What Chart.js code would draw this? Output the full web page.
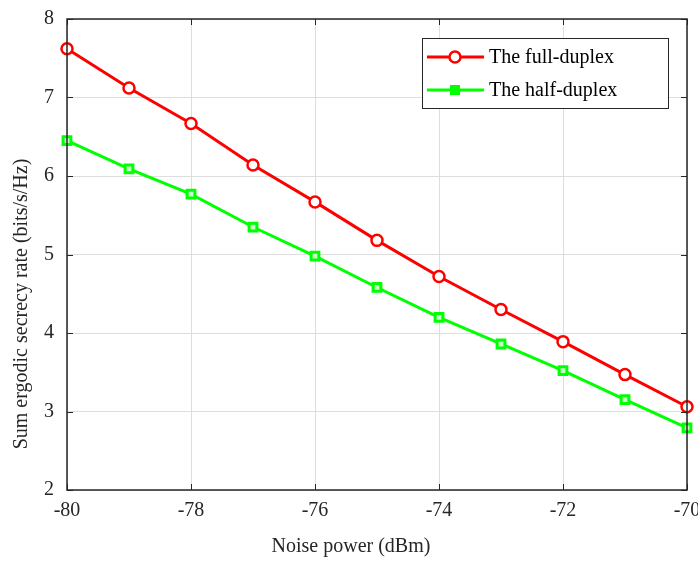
<!doctype html>
<html lang="en">
<head>
<meta charset="utf-8">
<title>Sum ergodic secrecy rate vs noise power</title>
<script src="https://cdn.jsdelivr.net/npm/chart.js@4.4.4/dist/chart.umd.min.js"></script>
<style>
  body { margin: 0; background: #fff; }
  .wrap { width: 698px; height: 562px; }
</style>
</head>
<body>
<div class="wrap"><canvas id="chart" width="698" height="562"></canvas></div>
<script>
// Values.
const noisePower = [-80, -79, -78, -77, -76, -75, -74, -73, -72, -71, -70];
const fullDuplex = [7.62, 7.12, 6.67, 6.14, 5.67, 5.18, 4.72, 4.30, 3.89, 3.47, 3.06];
const halfDuplex = [6.45, 6.09, 5.77, 5.35, 4.98, 4.58, 4.20, 3.86, 3.52, 3.15, 2.79];
const xTicks = [-80, -78, -76, -74, -72, -70];
const yTicks = [2, 3, 4, 5, 6, 7, 8];
const xTitle = "Noise power (dBm)";
const yTitle = "Sum ergodic secrecy rate (bits/s/Hz)";

const FONT = "'Liberation Serif', 'Times New Roman', serif";
const AXIS = "#262626";

const toXY = (ys) => ys.map((y, i) => ({ x: noisePower[i], y }));

// MATLAB-style box: frame plus short inward ticks on all four sides.
const boxPlugin = {
  id: "box",
  afterDatasetsDraw(chart) {
    const { ctx, chartArea: a, scales } = chart;
    const len = 6;
    ctx.save();
    ctx.strokeStyle = AXIS;
    ctx.lineWidth = 1;
    ctx.beginPath();
    for (const v of xTicks) {
      const px = Math.round(scales.x.getPixelForValue(v)) + 0.5;
      ctx.moveTo(px, a.bottom); ctx.lineTo(px, a.bottom - len);
      ctx.moveTo(px, a.top); ctx.lineTo(px, a.top + len);
    }
    for (const v of yTicks) {
      const py = Math.round(scales.y.getPixelForValue(v)) + 0.5;
      ctx.moveTo(a.left, py); ctx.lineTo(a.left + len, py);
      ctx.moveTo(a.right, py); ctx.lineTo(a.right - len, py);
    }
    ctx.stroke();
    ctx.lineWidth = 1.5;
    ctx.strokeRect(a.left, a.top, a.right - a.left, a.bottom - a.top);
    ctx.restore();
  },
  // axis titles sit off the axis centres in the original, so place them by hand
  afterDraw(chart) {
    const { ctx } = chart;
    ctx.save();
    ctx.fillStyle = AXIS;
    ctx.font = "20px " + FONT;
    ctx.textAlign = "center";
    ctx.textBaseline = "middle";
    ctx.fillText(xTitle, 351, 547);
    ctx.translate(22, 304);
    ctx.rotate(-Math.PI / 2);
    ctx.fillText(yTitle, 0, 0);
    ctx.restore();
  },
};

// Boxed legend in the upper right, line sample with the marker on it.
const legendPlugin = {
  id: "boxLegend",
  afterDraw(chart) {
    const { ctx } = chart;
    const x0 = 422, y0 = 38, w = 246, h = 70;
    ctx.save();
    ctx.fillStyle = "#fff";
    ctx.fillRect(x0, y0, w, h);
    ctx.strokeStyle = AXIS;
    ctx.lineWidth = 1;
    ctx.strokeRect(x0 + 0.5, y0 + 0.5, w, h);
    chart.data.datasets.forEach((ds, i) => {
      const cy = y0 + 19 + i * 33;
      ctx.strokeStyle = ds.borderColor;
      ctx.lineWidth = ds.borderWidth;
      ctx.beginPath();
      ctx.moveTo(x0 + 5, cy); ctx.lineTo(x0 + 62, cy);
      ctx.stroke();
      ctx.lineWidth = ds.pointBorderWidth;
      const cx = x0 + 33;
      if (ds.pointStyle === "circle") {
        ctx.fillStyle = ds.pointBackgroundColor;
        ctx.beginPath();
        ctx.arc(cx, cy, ds.pointRadius, 0, Math.PI * 2);
        ctx.fill(); ctx.stroke();
      } else {
        ctx.fillStyle = ds.borderColor;
        const r = 5;
        ctx.fillRect(cx - r, cy - r, 2 * r, 2 * r);
      }
      ctx.fillStyle = "#000";
      ctx.font = "20px " + FONT;
      ctx.textBaseline = "middle";
      ctx.fillText(ds.label, x0 + 67, cy + 1);
    });
    ctx.restore();
  },
};

new Chart(document.getElementById("chart"), {
  type: "line",
  data: {
    datasets: [
      {
        label: "The full-duplex", data: toXY(fullDuplex), clip: false,
        borderColor: "#ff0000", borderWidth: 3,
        pointStyle: "circle", pointRadius: 5.5, pointBorderWidth: 2.5,
        pointBackgroundColor: "#ffffff", pointBorderColor: "#ff0000",
      },
      {
        label: "The half-duplex", data: toXY(halfDuplex), clip: false,
        borderColor: "#00ff00", borderWidth: 3,
        pointStyle: "rect", pointRadius: 5.5, pointBorderWidth: 3,
        pointBackgroundColor: "#c8ffc8", pointBorderColor: "#00ff00",
      },
    ],
  },
  options: {
    responsive: false,
    animation: false,
    layout: { padding: { top: 19, right: 11, left: 0, bottom: 0 } },
    scales: {
      x: {
        type: "linear", min: -80, max: -70,
        border: { display: false },
        grid: { color: "#dedede", lineWidth: 1, drawTicks: false },
        afterBuildTicks: (s) => { s.ticks = xTicks.map((v) => ({ value: v })); },
        afterFit: (s) => { s.height = 72; s.paddingLeft = 0; s.paddingRight = 0; },
        ticks: { color: AXIS, padding: 9, font: { family: FONT, size: 20 }, maxRotation: 0 },
      },
      y: {
        type: "linear", min: 2, max: 8,
        border: { display: false },
        grid: { color: "#dedede", lineWidth: 1, drawTicks: false },
        afterBuildTicks: (s) => { s.ticks = yTicks.map((v) => ({ value: v })); },
        afterFit: (s) => { s.width = 67; s.paddingTop = 0; s.paddingBottom = 0; },
        ticks: { color: AXIS, padding: 13, font: { family: FONT, size: 20 } },
      },
    },
    plugins: { legend: { display: false }, tooltip: { enabled: false } },
  },
  plugins: [boxPlugin, legendPlugin],
});
</script>
</body>
</html>
